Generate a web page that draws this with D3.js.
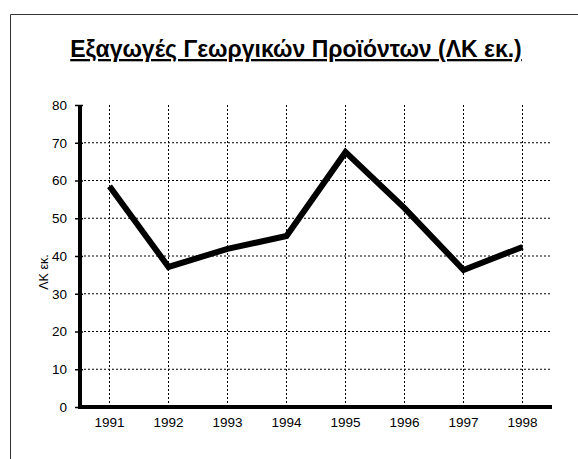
<!DOCTYPE html>
<html><head><meta charset="utf-8">
<script src="https://cdn.jsdelivr.net/npm/d3@7"></script>
<style>body{margin:0;background:#fff}svg{display:block}</style>
</head><body>
<script>
const years = ["1991","1992","1993","1994","1995","1996","1997","1998"];
const values = [58.5, 37.1, 41.9, 45.3, 67.5, 52.7, 36.3, 42.4];
const yTicks = [0,10,20,30,40,50,60,70,80];
const title = "Εξαγωγές Γεωργικών Προϊόντων (ΛΚ εκ.)";
const yLabel = "ΛΚ εκ.";

const W = 578, H = 459;
const svg = d3.select("body").append("svg").attr("width", W).attr("height", H);
const font = "Liberation Sans, Arial, sans-serif";

// frame
svg.append("path").attr("d", `M10.5,${H} V14.5 H${W}`).attr("fill","none").attr("stroke","#333").attr("stroke-width",1);

const x = d3.scaleBand().domain(years).range([80, 552]);
const y = d3.scaleLinear().domain([0, 80]).range([407, 105]);
const cx = d => x(d) + x.bandwidth()/2;

// grid
const g = svg.append("g");
g.selectAll(".hg").data(yTicks.filter(t => t > 0 && t < 80)).join("line")
  .attr("x1", 80).attr("x2", 552).attr("y1", d => y(d)).attr("y2", d => y(d))
  .attr("stroke","#000").attr("stroke-width",1).attr("stroke-dasharray","2,2");
g.selectAll(".vg").data(years).join("line")
  .attr("x1", d => cx(d)).attr("x2", d => cx(d)).attr("y1", y(80)).attr("y2", y(0))
  .attr("stroke","#000").attr("stroke-width",1).attr("stroke-dasharray","2,2");

// axes
const yAxis = svg.append("g").attr("transform","translate(80,0)")
  .call(d3.axisLeft(y).tickValues(yTicks).tickSize(5).tickPadding(8));
yAxis.select(".domain").attr("stroke-width",4).attr("d", `M0,${y(80)}V${y(0)}`);
yAxis.selectAll("text").attr("font-family", font).attr("font-size", 13.5).attr("fill","#000");
yAxis.selectAll(".tick line").attr("x2", 3).attr("x1",-5).attr("stroke-width",1.5);

const xAxis = svg.append("g").attr("transform",`translate(0,${y(0)})`)
  .call(d3.axisBottom(x).tickSize(0).tickPadding(10));
xAxis.select(".domain").attr("stroke-width",4).attr("d", `M78,0H552`);
xAxis.selectAll("text").attr("font-family", font).attr("font-size", 13.5).attr("fill","#000");

// line
svg.append("path").datum(values)
  .attr("d", d3.line().x((d,i) => cx(years[i])).y(d => y(d)))
  .attr("fill","none").attr("stroke","#000").attr("stroke-width",6)
  .attr("stroke-linejoin","miter").attr("stroke-linecap","butt");

// y label
svg.append("text").attr("transform","translate(48,272) rotate(-90)")
  .attr("text-anchor","middle").attr("font-family", font).attr("font-size", 12.5).text(yLabel);

// title
svg.append("text").attr("x", 296).attr("y", 57).attr("text-anchor","middle")
  .attr("font-family", font).attr("font-size", 23).attr("font-weight","bold")
  .attr("text-decoration","underline").text(title);
</script>
</body></html>
